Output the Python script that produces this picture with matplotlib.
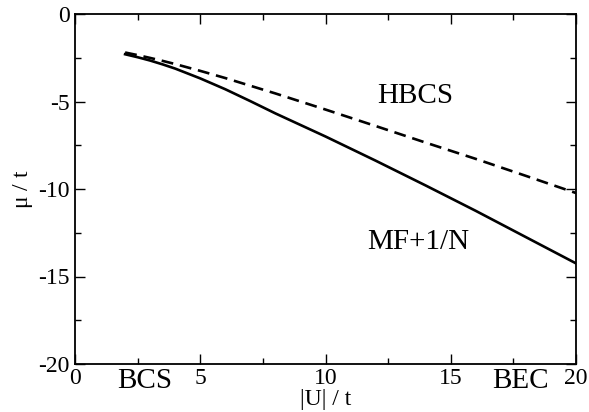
import matplotlib
matplotlib.use('Agg')
import matplotlib.pyplot as plt
from matplotlib.ticker import MultipleLocator

# coupling |U|/t and chemical potential mu/t
u_vals = [2, 2.5, 3, 3.5, 4, 5, 6, 7, 8, 9, 10, 12, 14, 16, 18, 20]
mu_mf_1n = [-2.3, -2.47, -2.66, -2.88, -3.12, -3.68, -4.3, -4.98, -5.68, -6.34, -7.0,
            -8.38, -9.8, -11.25, -12.75, -14.25]
mu_hbcs = [-2.2, -2.35, -2.51, -2.68, -2.86, -3.25, -3.66, -4.1, -4.54, -5.0, -5.46,
           -6.4, -7.35, -8.28, -9.25, -10.23]

plt.rcParams['font.family'] = ['Liberation Serif', 'DejaVu Serif']
plt.rcParams['mathtext.fontset'] = 'stix'
plt.rcParams['axes.unicode_minus'] = False

fig = plt.figure(figsize=(5.89, 4.12), dpi=100)
ax = fig.add_axes([75 / 589, 1 - 364 / 412, 501 / 589, 350 / 412])

ax.plot(u_vals, mu_mf_1n, color='black', lw=1.9)
ax.plot(u_vals, mu_hbcs, color='black', lw=1.9, dashes=(4.5, 2.6))

ax.set_xlim(0, 20)
ax.set_ylim(-20, 0)
ax.xaxis.set_major_locator(MultipleLocator(5))
ax.xaxis.set_minor_locator(MultipleLocator(2.5))
ax.yaxis.set_major_locator(MultipleLocator(5))
ax.yaxis.set_minor_locator(MultipleLocator(2.5))
ax.tick_params(which='both', direction='in', top=True, right=True, labelsize=17, width=1.0)
ax.tick_params(which='major', length=7, pad=3)
ax.tick_params(which='minor', length=4)
ax.tick_params(axis='y', pad=4)
for sp in ax.spines.values():
    sp.set_linewidth(1.3)

ax.set_xlabel('|U| / t', fontsize=17, labelpad=0)
ax.set_ylabel(r'$\mathregular{\mu}$ / t', fontsize=17, labelpad=2)

ax.text(13.6, -5.1, 'HBCS', fontsize=21, ha='center', va='baseline')
ax.text(13.7, -13.4, 'MF+1/N', fontsize=21, ha='center', va='baseline')
ax.text(2.8, -21.4, 'BCS', fontsize=21, ha='center', va='baseline', clip_on=False)
ax.text(17.8, -21.4, 'BEC', fontsize=21, ha='center', va='baseline', clip_on=False)

fig.savefig('out.png', dpi=100)
